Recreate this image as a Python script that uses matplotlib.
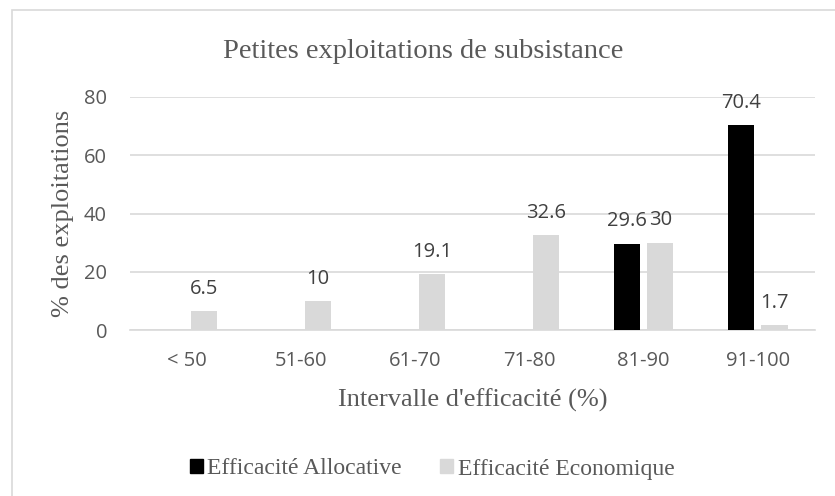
import matplotlib.pyplot as plt
import numpy as np
from matplotlib.patches import Rectangle, Patch

categories = ["< 50", "51-60", "61-70", "71-80", "81-90", "91-100"]
allocative = [0, 0, 0, 0, 29.6, 70.4]
economique = [6.5, 10, 19.1, 32.6, 30, 1.7]
series_names = ["Efficacité Allocative", "Efficacité Economique"]

serif = "Liberation Serif"
sans = "Open Sans"
txt = "#595959"
W, H = 835, 496

fig = plt.figure(figsize=(W / 100, H / 100), dpi=100)
ax = fig.add_axes([130 / W, 1 - 330 / H, 685 / W, 233 / H])

# outer chart frame
fig.patches.append(Rectangle((12 / W, -0.1), 1.2, 1 - 10 / H + 0.1,
                             transform=fig.transFigure, fill=False,
                             edgecolor="#d9d9d9", linewidth=1.2))

x = np.arange(len(categories))
w = 0.23
off = 0.145
b1 = ax.bar(x - off, allocative, w, color="black", zorder=3)
b2 = ax.bar(x + off, economique, w, color="#d9d9d9", zorder=3)

for bars, vals in ((b1, allocative), (b2, economique)):
    for rect, v in zip(bars, vals):
        if v == 0:
            continue
        ax.annotate(f"{v:g}", (rect.get_x() + rect.get_width() / 2, v),
                    xytext=(0, 12.5), textcoords="offset points",
                    ha="center", va="baseline", fontsize=14.5,
                    family=sans, color="#404040", zorder=4)

ax.set_xlim(-0.5, len(categories) - 0.5)
ax.set_ylim(0, 80)
ax.set_yticks([0, 20, 40, 60, 80])
ax.set_xticks(x)
ax.set_xticklabels(categories)
ax.yaxis.grid(True, color="#d9d9d9", linewidth=1.2, zorder=0)
for s in ("top", "right", "left"):
    ax.spines[s].set_visible(False)
ax.spines["bottom"].set_color("#d9d9d9")
ax.spines["bottom"].set_linewidth(1.2)
ax.tick_params(length=0, labelsize=14.5, labelcolor=txt)
ax.tick_params(axis="x", pad=15)
ax.tick_params(axis="y", pad=16.5)
for lab in ax.get_xticklabels() + ax.get_yticklabels():
    lab.set_family(sans)

fig.text(423.5 / W, 1 - 58 / H, "Petites exploitations de subsistance",
         family=serif, fontsize=20.5, color=txt, ha="center", va="baseline")

ax.set_xlabel("Intervalle d'efficacité (%)", family=serif, fontsize=19, color=txt)
ax.xaxis.set_label_coords(0.5, (330 - 407) / 233)
ax.xaxis.label.set_va("baseline")

ax.set_ylabel("% des exploitations", family=serif, fontsize=19, color=txt)
ax.yaxis.set_label_coords((63 - 130) / 685, 0.5)
ax.yaxis.label.set_va("center")

handles = [Patch(color="black"), Patch(color="#d9d9d9")]
fig.legend(handles, series_names, loc="center", bbox_to_anchor=(432 / W, 1 - 469 / H),
           ncol=2, frameon=False, prop={"family": serif, "size": 17},
           labelcolor=txt, handlelength=0.55, handleheight=0.55,
           handletextpad=0.2, columnspacing=1.6)

fig.savefig("out.png", dpi=100)
